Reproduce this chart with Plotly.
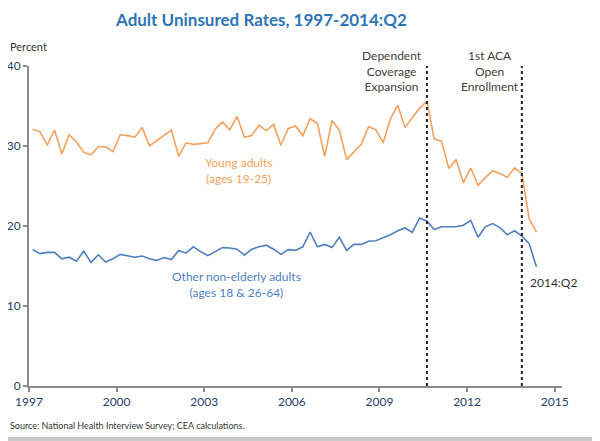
import plotly.graph_objects as go

# ---------------- data ----------------
start_year = 1997
n_quarters = 70  # 1997:Q1 .. 2014:Q2
periods = [f"{start_year + i // 4}:Q{i % 4 + 1}" for i in range(n_quarters)]

young_adults = [
    32.1, 31.8, 30.1, 32.0, 29.0, 31.4, 30.5, 29.2, 28.9, 29.9,
    29.9, 29.3, 31.4, 31.3, 31.1, 32.3, 30.0, 30.7, 31.4, 32.0,
    28.7, 30.4, 30.2, 30.3, 30.4, 32.1, 33.0, 32.0, 33.7, 31.1,
    31.3, 32.6, 31.9, 32.7, 30.1, 32.2, 32.5, 31.3, 33.4, 32.8,
    28.7, 33.2, 32.0, 28.3, 29.25, 30.2, 32.4, 32.05, 30.4, 33.4,
    35.1, 32.3, 33.55, 34.7, 35.6, 30.9, 30.6, 27.2, 28.3, 25.4,
    27.25, 25.1, 26.05, 26.9, 26.55, 26.1, 27.25, 26.6, 20.9, 19.25,
]
other_adults = [
    17.05, 16.55, 16.7, 16.7, 15.9, 16.1, 15.6, 16.85, 15.45, 16.4,
    15.5, 15.9, 16.45, 16.25, 16.1, 16.25, 15.9, 15.7, 16.05, 15.8,
    16.95, 16.6, 17.4, 16.8, 16.3, 16.8, 17.3, 17.25, 17.1, 16.35,
    17.1, 17.4, 17.6, 17.1, 16.45, 17.05, 16.95, 17.4, 19.25, 17.4,
    17.7, 17.3, 18.6, 16.95, 17.7, 17.7, 18.1, 18.15, 18.5, 18.9,
    19.4, 19.75, 19.2, 21.0, 20.6, 19.55, 19.9, 19.9, 19.9, 20.1,
    20.7, 18.6, 19.9, 20.3, 19.8, 18.9, 19.4, 18.75, 17.8, 14.9,
]
event_periods = ["2010:Q3", "2013:Q4"]
event_labels = ["Dependent<br>Coverage<br>Expansion", "1st ACA<br>Open<br>Enrollment"]
x_ticks = [1997, 2000, 2003, 2006, 2009, 2012, 2015]
y_ticks = [0, 10, 20, 30, 40]


def period_to_x(p):
    y, q = p.split(":Q")
    return int(y) + (int(q) - 0.5) / 4


xs = [period_to_x(p) for p in periods]

# ---------------- layout geometry (screen pixels) ----------------
SCREEN_W, SCREEN_H = 600, 441
OFF = 8  # default page body margin
W, H = SCREEN_W - OFF, SCREEN_H - OFF
# plot area in screen pixels
SL, SR, ST, SB = 29, 562, 66, 386
L, R, T, B = SL - OFF, SR - OFF, ST - OFF, SB - OFF
PW, PH = R - L, B - T


def px(xs_):
    return (xs_ - OFF - L) / PW


def py(ys_):
    return (B - (ys_ - OFF)) / PH


FONT = "Lato"
ORANGE = "#F5A15C"
BLUE = "#4F7FBE"
NAVY = "#2B3B6A"
DARK = "#333333"

fig = go.Figure()
fig.add_trace(go.Scatter(x=xs, y=young_adults, mode="lines",
                         line=dict(color=ORANGE, width=1.6), name="Young adults",
                         hoverinfo="skip"))
fig.add_trace(go.Scatter(x=xs, y=other_adults, mode="lines",
                         line=dict(color=BLUE, width=1.6), name="Other non-elderly adults",
                         hoverinfo="skip"))

shapes = []
for ep in event_periods:
    ex = period_to_x(ep)
    shapes.append(dict(type="line", xref="x", yref="y", x0=ex, x1=ex, y0=0, y1=40,
                       line=dict(color="#222222", width=2, dash="dot"), layer="above"))
# grey frame band at bottom of the screenshot
shapes.append(dict(type="rect", xref="paper", yref="paper", x0=px(OFF), x1=px(SCREEN_W),
                   y0=py(SCREEN_H), y1=py(437), fillcolor="#C9C9C9", line=dict(width=0)))

annotations = [
    dict(text="<b>Adult Uninsured Rates, 1997-2014:Q2</b>", x=px(261), y=py(20),
         font=dict(family=FONT, size=17, color="#2E75B6")),
    dict(text="Percent", x=px(8), y=py(46), xanchor="left",
         font=dict(family=FONT, size=11, color=DARK)),
    dict(text="Young adults<br>(ages 19-25)", x=px(238), y=py(170),
         font=dict(family=FONT, size=12, color=ORANGE)),
    dict(text="Other non-elderly adults<br>(ages 18 &amp; 26-64)", x=px(236), y=py(284),
         font=dict(family=FONT, size=12, color=BLUE)),
    dict(text=event_labels[0], x=px(392), y=py(71),
         font=dict(family=FONT, size=12, color="#404040")),
    dict(text=event_labels[1], x=px(490), y=py(71),
         font=dict(family=FONT, size=12, color="#404040")),
    dict(text="2014:Q2", x=px(528), y=py(282), xanchor="left",
         font=dict(family=FONT, size=12, color=DARK)),
    dict(text="Source: National Health Interview Survey; CEA calculations.", x=px(8), y=py(425),
         xanchor="left", font=dict(family=FONT, size=9, color=DARK)),
]
for a in annotations:
    a.setdefault("xanchor", "center")
    a.update(xref="paper", yref="paper", yanchor="middle", showarrow=False)

fig.update_layout(
    width=W, height=H,
    margin=dict(l=L, r=W - R, t=T, b=H - B, pad=0, autoexpand=False),
    paper_bgcolor="white", plot_bgcolor="white",
    showlegend=False,
    shapes=shapes,
    annotations=annotations,
    xaxis=dict(range=[1997, 2015.25], tickvals=x_ticks, ticktext=[str(t) for t in x_ticks],
               automargin=False,
               showgrid=False, zeroline=False, showline=True, linecolor="#8C8C8C", linewidth=2,
               ticks="outside", ticklen=4, tickcolor="#8C8C8C", tickwidth=1.5,
               tickfont=dict(family=FONT, size=12, color=NAVY)),
    yaxis=dict(range=[0, 40], tickvals=y_ticks, showgrid=False, zeroline=False,
               automargin=False,
               showline=True, linecolor="#8C8C8C", linewidth=2,
               ticks="outside", ticklen=4, tickcolor="#8C8C8C", tickwidth=1.5,
               tickfont=dict(family=FONT, size=12, color=NAVY)),
)

fig.write_html("out.html")
